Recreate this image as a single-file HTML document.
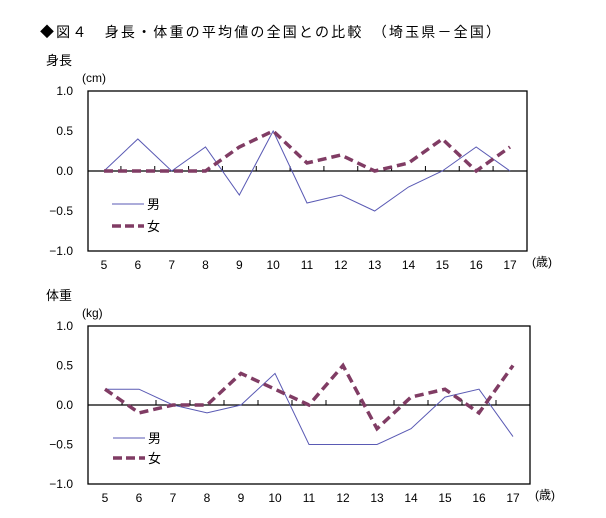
<!DOCTYPE html>
<html><head><meta charset="utf-8">
<style>
body{margin:0;background:#fff;width:606px;height:518px;overflow:hidden}
svg{display:block;font-family:"Liberation Sans","Noto Sans CJK JP",sans-serif}
</style></head>
<body>
<svg id="s" width="606" height="518" xmlns="http://www.w3.org/2000/svg">
<text x="40" y="37" font-size="14" textLength="460" lengthAdjust="spacing">◆図４　身長・体重の平均値の全国との比較　（埼玉県－全国）</text>
</svg>
<script>
const ages = ['5','6','7','8','9','10','11','12','13','14','15','16','17'];
const yTicks = ['1.0','0.5','0.0','\u22120.5','\u22121.0'];
const yTickVals = [1,0.5,0,-0.5,-1];
const heightBoys = [0,0.4,0,0.3,-0.3,0.5,-0.4,-0.3,-0.5,-0.2,0,0.3,0];
const heightGirls = [0,0,0,0,0.3,0.5,0.1,0.2,0,0.1,0.4,0,0.3];
const weightBoys = [0.2,0.2,0,-0.1,0,0.4,-0.5,-0.5,-0.5,-0.3,0.1,0.2,-0.4];
const weightGirls = [0.2,-0.1,0,0,0.4,0.2,0,0.5,-0.3,0.1,0.2,-0.1,0.5];

const svg = document.getElementById('s');
const NS = 'http://www.w3.org/2000/svg';
function mk(tag, attrs, parent){
  const e = document.createElementNS(NS, tag);
  for (const k in attrs) e.setAttribute(k, attrs[k]);
  (parent||svg).appendChild(e);
  return e;
}
function chart(o){
  const g = mk('g', {});
  
  
  const x = i => o.x0 + i*(o.x1-o.x0)/(ages.length-1);
  const y = v => o.top + (1-v)*(o.bot-o.top)/2;
  const t = mk('text', {x:46, y:o.top-26, 'font-size':13}, g); t.textContent = o.title;
  
  
  const u = mk('text', {x:82, y:o.top-9, 'font-size':12}, g); u.textContent = o.unit;
  
  
  const box = mk('rect', {x:o.left, y:o.top, width:o.right-o.left, height:o.bot-o.top, fill:'none', stroke:'#000', 'stroke-width':1.3}, g);
  
  
  yTickVals.forEach((v,i)=>{
    const l = mk('text', {x:73, y:y(v)+4, 'font-size':12, 'text-anchor':'end'}, g);
    l.textContent = yTicks[i];
    
    
  });
  const z = mk('line', {x1:o.left, x2:o.right, y1:y(0), y2:y(0), stroke:'#000', 'stroke-width':1.3}, g);
  
  
  for (let i=0;i<ages.length-1;i++){
    const tk = mk('line', {x1:(x(i)+x(i+1))/2, x2:(x(i)+x(i+1))/2, y1:y(0)-5, y2:y(0), stroke:'#000'}, g);
    
    
  }
  ages.forEach((a,i)=>{
    const l = mk('text', {x:x(i), y:o.bot+18, 'font-size':12, 'text-anchor':'middle'}, g);
    l.textContent = a;
    
    
  });
  const sa = mk('text', {x:o.right+5, y:o.bot+15, 'font-size':12}, g); sa.textContent = '(歳)';
  
  
  const pb = mk('polyline', {points:o.boys.map((v,i)=>x(i)+','+y(v)).join(' '), fill:'none', stroke:'#5a5ab4', 'stroke-width':1}, g);
  
  
  const pg = mk('polyline', {points:o.girls.map((v,i)=>x(i)+','+y(v)).join(' '), fill:'none', stroke:'#803c64', 'stroke-width':3.5, 'stroke-dasharray':'9,5'}, g);
  
  
  const l1 = mk('line', {x1:o.lx, x2:o.lx+32, y1:o.ly1, y2:o.ly1, stroke:'#5a5ab4'}, g);
  
  
  const t1 = mk('text', {x:o.lx+35, y:o.ly1+5, 'font-size':13}, g); t1.textContent = '男';
  
  
  const l2 = mk('line', {x1:o.lx, x2:o.lx+32, y1:o.ly2, y2:o.ly2, stroke:'#803c64', 'stroke-width':3.5, 'stroke-dasharray':'9,4'}, g);
  
  
  const t2 = mk('text', {x:o.lx+35, y:o.ly2+5, 'font-size':13}, g); t2.textContent = '女';
  
  
}
chart({name:'height-chart', title:'身長', unit:'(cm)', left:88, right:527, top:91, bot:251, x0:104, x1:510, boys:heightBoys, girls:heightGirls, lx:112, ly1:204, ly2:226});
chart({name:'weight-chart', title:'体重', unit:'(kg)', left:88, right:530, top:326, bot:484, x0:105, x1:513, boys:weightBoys, girls:weightGirls, lx:113, ly1:438, ly2:458});
</script>
</body></html>
